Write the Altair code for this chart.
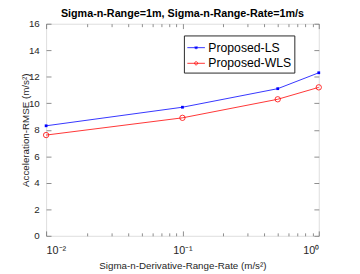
import altair as alt
import pandas as pd

x_vals = [0.01, 0.1, 0.5, 1.0]
ls_vals = [8.3, 9.7, 11.1, 12.3]
wls_vals = [7.6, 8.9, 10.3, 11.2]
series = ["Proposed-LS", "Proposed-WLS"]
colors = ["#0000ff", "#ff0000"]
major_x = [0.01, 0.1, 1.0]
minor_x = [0.02, 0.03, 0.04, 0.05, 0.06, 0.07, 0.08, 0.09,
           0.2, 0.3, 0.4, 0.5, 0.6, 0.7, 0.8, 0.9]
y_ticks = [0, 2, 4, 6, 8, 10, 12, 14, 16]

rows = []
for s, vals in zip(series, [ls_vals, wls_vals]):
    for xv, yv in zip(x_vals, vals):
        rows.append({"x": xv, "y": yv, "series": s})
df = pd.DataFrame(rows)

FONT = "Liberation Sans"
xscale = alt.Scale(type="log", domain=[0.01, 1])
yscale = alt.Scale(domain=[0, 16])
cscale = alt.Scale(domain=series, range=colors)

MAJ = 5
MIN = 3

def xaxis(orient, values, size, labels):
    kw = dict(orient=orient, values=values, tickSize=size, offset=-size, domain=False,
              grid=False, tickColor="#404040", tickWidth=0.6, labels=labels)
    if labels:
        kw.update(labelExpr="datum.value == 0.01 ? '10⁻²' : datum.value == 0.1 ? '10⁻¹' : '10⁰'",
                  labelFont=FONT, labelFontSize=11, labelColor="#262626", labelPadding=4 + size,
                  title="Sigma-n-Derivative-Range-Rate (m/s²)", titleFont=FONT, titleFontSize=10,
                  titleFontWeight="normal", titleColor="#262626", titlePadding=5)
    else:
        kw.update(title=None)
    return alt.Axis(**kw)

def yaxis(orient, labels):
    kw = dict(orient=orient, values=y_ticks, tickSize=MAJ, offset=-MAJ, domain=False, grid=False,
              tickColor="#404040", tickWidth=0.6, labels=labels)
    if labels:
        kw.update(labelFont=FONT, labelFontSize=10, labelColor="#262626", labelPadding=2 + MAJ,
                  title="Acceleration-RMSE (m/s²)", titleFont=FONT, titleFontSize=10,
                  titleFontWeight="normal", titleColor="#262626", titlePadding=-2)
    else:
        kw.update(title=None)
    return alt.Axis(**kw)

base = alt.Chart(df)

lines = base.mark_line(strokeWidth=0.8).encode(
    x=alt.X("x:Q", scale=xscale, axis=xaxis("bottom", major_x, MAJ, True)),
    y=alt.Y("y:Q", scale=yscale, axis=yaxis("left", True)),
    color=alt.Color("series:N", scale=cscale, legend=None),
    detail="series:N",
)

ls_pts = alt.Chart(df[df.series == series[0]]).mark_point(
    shape="square", filled=True, size=8, color=colors[0], opacity=1
).encode(
    x=alt.X("x:Q", scale=xscale, axis=xaxis("top", major_x, MAJ, False)),
    y=alt.Y("y:Q", scale=yscale, axis=yaxis("right", False)),
)

wls_pts = alt.Chart(df[df.series == series[1]]).mark_point(
    shape="circle", filled=False, size=30, color=colors[1], strokeWidth=0.8, opacity=1
).encode(
    x=alt.X("x:Q", scale=xscale, axis=xaxis("bottom", minor_x, MIN, False)),
    y=alt.Y("y:Q", scale=yscale, axis=None),
)

minor_top = base.mark_point(opacity=0).encode(
    x=alt.X("x:Q", scale=xscale, axis=xaxis("top", minor_x, MIN, False)),
    y=alt.Y("y:Q", scale=yscale, axis=None),
)

ls_path = "M-1,0L1,0M-0.14,-0.14L0.14,0.14M-0.14,0.14L0.14,-0.14M0,-0.18L0,0.18M-0.18,0L0.18,0"
wls_path = "M-1,0L1,0M-0.18,0A0.18,0.18,0,1,0,0.18,0A0.18,0.18,0,1,0,-0.18,0"

legend_layer = base.mark_point(opacity=0, filled=False).encode(
    x=alt.X("x:Q", scale=xscale, axis=None),
    y=alt.Y("y:Q", scale=yscale, axis=None),
    color=alt.Color("series:N", scale=alt.Scale(domain=series, range=colors),
                    legend=alt.Legend(orient="none", legendX=141, legendY=12, title=None,
                                      strokeColor="#262626", fillColor="white", padding=3,
                                      labelFont=FONT, labelFontSize=12.5, labelColor="#000000",
                                      symbolSize=324, symbolStrokeWidth=0.8, symbolOpacity=1,
                                      rowPadding=-1, labelOffset=3, cornerRadius=0,
                                      labelLimit=200)),
    shape=alt.Shape("series:N", scale=alt.Scale(domain=series, range=[ls_path, wls_path])),
)

chart = alt.layer(lines, ls_pts, wls_pts, minor_top, legend_layer).resolve_axis(
    x="independent", y="independent"
).resolve_legend(color="independent", shape="independent").properties(
    width=279, height=217,
    title=alt.Title("Sigma-n-Range=1m, Sigma-n-Range-Rate=1m/s", font=FONT, fontSize=11,
                    fontWeight="bold", color="#000000", offset=0),
    autosize=alt.AutoSizeParams(type="none"),
    padding={"left": 39, "top": 13, "right": 34, "bottom": 36},
).configure_view(stroke="#262626", strokeWidth=0.8).configure(background="white")

chart.save("out.html", embed_options={"renderer": "svg", "actions": False})
